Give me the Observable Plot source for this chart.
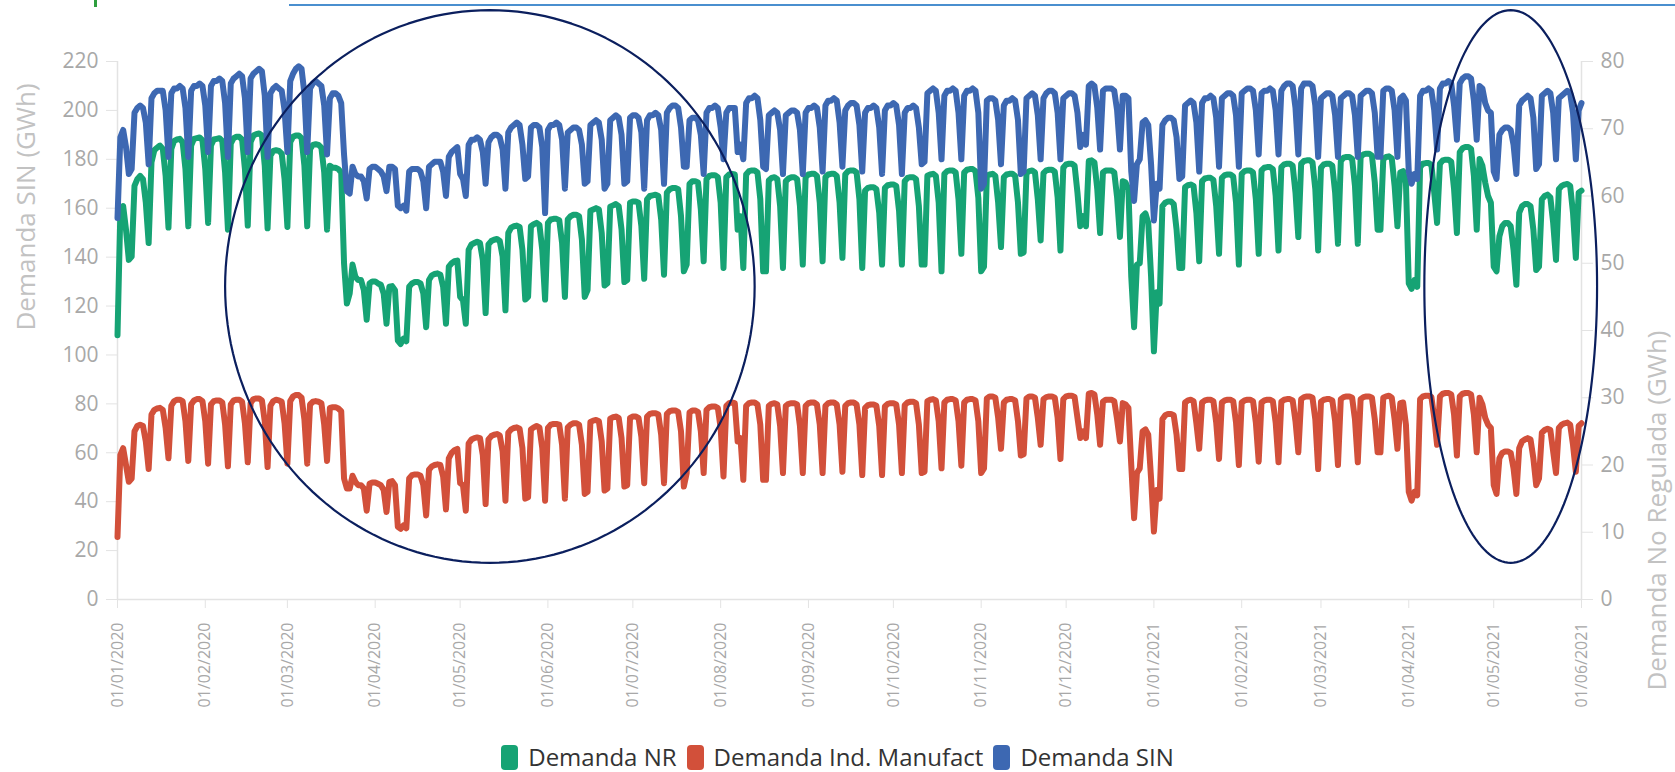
<!DOCTYPE html>
<html>
<head>
<meta charset="utf-8">
<script src="https://cdn.jsdelivr.net/npm/d3@7"></script>
<script src="https://cdn.jsdelivr.net/npm/@observablehq/plot@0.6"></script>
<style>
  html, body { margin: 0; padding: 0; background: #fff; }
  #wrap { position: relative; width: 1675px; height: 772px; overflow: hidden; font-family: "Open Sans", sans-serif; }
  #topline { position: absolute; left: 289px; right: 0; top: 4px; height: 2px; background: #4a8fcf; }
  #topmark { position: absolute; left: 94px; top: 0; width: 3px; height: 7px; background: #2e9e3e; }
  #chart { position: absolute; left: 0; top: 0; }
  #legend { position: absolute; left: 0; top: 744px; width: 1675px; height: 26px; display: flex; justify-content: center; align-items: center; }
  .item { display: flex; align-items: center; margin: 0 5px; }
  .sw { width: 17px; height: 25px; border-radius: 4px; margin-right: 10px; }
  .lab { font-size: 24px; color: #333; line-height: 26px; }
</style>
</head>
<body>
<div id="wrap">
  <div id="topmark"></div>
  <div id="topline"></div>
  <div id="chart"></div>
  <div id="legend"></div>
</div>
<script>
// ---------- DATA (daily, from 01/01/2020) ----------
const startDate = "2020-01-01";
const seriesNames = ["Demanda NR", "Demanda Ind. Manufact", "Demanda SIN"];
const seriesColors = ["#16A374", "#D2503A", "#3D68B2"];

// Demanda SIN (GWh) - left axis
const sinGWh = [
156,189,192,185,174,
176,199,201,202,201,195,178,
205,207,208,208,208,200,181,
207,209,209,210,209,201,181,
208,210,210,211,210,202,183,
210,212,212,213,212,203,181,
211,213,214,215,214,205,183,
213,215,216,217,216,206,181,
207,209,210,209,208,200,183,
212,215,217,218,217,207,183,
209,211,212,211,210,202,182,
205,207,207,206,203,182,167,
166,177,174,173,173,171,164,
176,177,177,176,175,173,167,
177,177,176,161,160,161,159,
175,176,176,176,175,171,160,
177,178,179,179,179,175,165,
181,183,184,185,174,172,165,
186,188,188,189,188,183,170,
187,189,190,190,189,184,168,
191,193,194,195,194,186,172,
173,193,194,194,193,185,158,
192,194,194,195,194,188,168,
191,192,193,193,192,186,170,
171,194,195,196,195,188,168,
170,196,197,198,197,190,170,
171,197,198,198,197,191,168,
196,198,198,199,198,192,170,
199,201,202,202,201,193,177,
177,196,197,197,196,190,174,
199,201,201,202,201,193,180,
199,201,201,201,183,186,180,
203,205,205,206,205,196,177,
176,198,199,200,199,192,174,
198,199,200,200,199,192,174,
199,201,201,202,201,193,175,
202,204,204,205,204,195,177,
200,202,203,203,202,194,175,
199,201,201,202,201,193,174,
200,202,202,203,202,194,174,
199,201,201,202,201,193,178,
179,207,208,209,208,199,180,
206,208,208,209,208,199,180,
206,208,208,209,208,199,168,
170,204,205,205,204,196,178,
202,204,204,205,204,196,174,
175,205,206,207,206,198,180,
205,207,208,208,207,199,180,
205,206,207,207,206,199,185,
190,186,210,211,210,201,184,
208,209,209,209,208,200,184,
206,206,205,175,163,178,180,
195,196,194,178,155,170,168,
194,196,197,197,196,189,172,
173,202,203,204,203,195,175,
203,205,205,206,205,197,177,
205,206,207,207,206,198,177,
207,208,209,209,208,200,182,
207,208,208,209,208,200,182,
208,210,211,211,210,201,182,
209,211,211,211,210,202,181,
205,206,207,207,206,198,181,
205,206,207,207,206,198,181,
206,207,208,208,207,199,181,
181,208,209,209,208,200,181,
205,206,204,175,170,174,172,
206,208,208,209,208,200,184,
209,211,211,212,211,202,188,
211,213,214,214,213,204,188,
210,209,203,200,199,175,172,
190,192,193,193,192,186,174,
202,204,205,206,205,197,176,
178,206,207,208,207,199,180,
205,206,207,208,207,199,180,
200,203
];

// Demanda NR (GWh) - right axis
const nrGWh = [
39.3,57.5,58.5,55,50.5,
51,61.5,62.5,63,62.5,59,53,
65,66.8,67.2,67.5,67,63,55.3,
67,68.2,68.4,68.5,68,64,55.5,
67.5,68.5,68.6,68.7,68.3,64,56,
67.5,68.4,68.5,68.6,68.2,63.5,55,
67.8,68.6,68.8,68.8,68.4,64,55.6,
68,69,69.2,69.3,69,64.5,55.2,
66,66.7,66.8,66.7,66.3,62.5,55.4,
68,68.8,69,69,68.6,64.5,55.5,
67,67.6,67.7,67.6,67.2,63.5,55,
64.5,64.2,64.2,64,63.5,50,44,
45.5,49.8,48,47.5,47.5,46,41.6,
47,47.3,47.3,47,46.8,45.5,41,
46.5,46.6,46,38.5,38,38.8,38.4,
46.5,47,47.2,47.2,47,45.5,40.5,
47.5,48.2,48.4,48.5,48.3,46.5,41,
49.5,50,50.3,50.4,45,44.5,41,
52,52.8,53,53.2,53,50.5,42.6,
52.8,53.3,53.5,53.6,53.3,51,43,
54.5,55.3,55.5,55.6,55.4,52,44.6,
45,55.5,55.8,56,55.7,52,44.6,
56,56.5,56.6,56.6,56.4,53,45,
56.5,57,57.2,57.2,57,53.5,45,
46,57.8,58,58.2,58,54.5,46.7,
47,58.4,58.6,58.8,58.5,55,47.2,
47.5,59,59.2,59.2,59,55.5,47.7,
59.5,60,60.1,60.2,60,56.5,48.3,
60.5,61,61.2,61.2,61,57,48.8,
49.8,61.8,62.2,62.2,62,58,50.3,
62.5,63,63.1,63.1,62.8,59,49.3,
62.8,63.2,63.3,63.2,55,57,49.3,
63.2,63.7,63.8,63.8,63.5,59.5,48.8,
48.8,62.3,62.7,62.8,62.5,58.5,49.3,
62.2,62.6,62.8,62.8,62.5,58.5,49.8,
62.8,63.2,63.3,63.3,63,59,50.3,
62.8,63.2,63.3,63.3,63,59,50.8,
63.2,63.7,63.8,63.8,63.5,59.5,49.3,
60.8,61.2,61.3,61.3,61,57.5,49.8,
61.2,61.6,61.7,61.7,61.5,57.8,49.8,
62.2,62.7,62.8,62.8,62.5,58.5,49.8,
49.8,63,63.2,63.3,63,59,48.8,
63.3,63.7,63.8,63.8,63.5,59.5,51.4,
63.5,63.9,64,64,63.7,59.7,48.8,
49.5,63,63.2,63.3,63,59,52.4,
62.8,63.2,63.3,63.3,63,59,51.4,
51.6,63.4,63.7,63.8,63.5,59.5,53.4,
63.4,63.8,63.9,63.9,63.6,59.8,51.9,
64.2,64.7,64.8,64.8,64.5,60.5,55.5,
57,55.5,65.2,65.3,65,61,54.5,
63.5,63.8,63.8,63.8,63.5,59.8,53.9,
62.2,62,61,48,40.5,49.8,50,
57,57.4,56,48,36.9,45.7,44,
58.5,59,59.2,59.2,58.8,55,49.3,
49.3,61.3,61.6,61.7,61.5,57.5,50.3,
62.2,62.6,62.7,62.7,62.4,58.5,51.4,
62.7,63.1,63.2,63.2,62.9,59,49.8,
63.3,63.7,63.8,63.8,63.5,59.5,51.4,
63.8,64.2,64.3,64.3,64,60,51.9,
64.3,64.7,64.8,64.8,64.5,60.5,53.9,
64.8,65.2,65.3,65.3,65,61,51.9,
64.2,64.7,64.8,64.8,64.5,60.5,52.9,
65.2,65.7,65.8,65.8,65.5,61.5,52.9,
65.8,66.2,66.3,66.3,66,62,55,
55,65.5,65.8,65.9,65.6,61.5,55.5,
63.5,63.7,62,47,46.2,47.5,46.5,
64.3,64.8,64.9,64.9,64.6,60.5,56,
64.8,65.3,65.4,65.4,65.1,61,54.5,
66.5,67.1,67.3,67.3,67,63,55,
65.5,64.5,62,60,59,49.5,48.8,
54,55.5,56,56,55.5,52,46.8,
57.5,58.5,58.8,58.8,58.5,55,49,
49.5,59.5,60,60.2,59.8,56,50.5,
61,61.5,61.7,61.8,61.5,57.5,50.8,
60.5,60.8
];

// Demanda Industria Manufacturera (GWh) - right axis
const manufGWh = [
9.3,21.5,22.5,20,17.5,
18,25,25.8,26,25.8,23.5,19.4,
27.5,28.2,28.4,28.5,28.2,25.5,21,
28.8,29.5,29.7,29.7,29.5,26.5,20.6,
29,29.6,29.8,29.8,29.5,26.5,20.2,
29,29.5,29.6,29.6,29.3,26,19.8,
29,29.6,29.7,29.7,29.4,26.2,20.4,
29.2,29.8,29.9,29.9,29.6,26.5,19.7,
28.8,29.5,29.7,29.6,29.4,26.2,20.2,
29.5,30.2,30.4,30.4,30,26.8,20.2,
29,29.4,29.5,29.4,29.2,26,20.6,
28.5,28.6,28.6,28.4,28,18,16.5,
16.5,18.4,17.5,17,17,16.5,13.2,
17.2,17.4,17.4,17.2,17,16.3,13,
17.5,17.6,17,10.8,10.5,11,10.6,
18,18.5,18.6,18.6,18.4,17,12.5,
19.3,19.8,20,20.1,20,18.3,13.4,
21,21.8,22.2,22.4,17.3,17,13.2,
23.2,23.8,24,24.1,24,21.5,14.2,
23.8,24.3,24.5,24.6,24.4,22,14.7,
24.8,25.3,25.5,25.6,25.4,22.5,15,
15.2,25.3,25.6,25.8,25.6,22.5,14.7,
25.5,26,26.1,26.1,26,23,15,
25.6,26,26.2,26.2,26,23,15.7,
16,26.4,26.6,26.7,26.5,23.5,16.2,
16.5,26.9,27.1,27.2,27,24,16.8,
17,27,27.2,27.2,27,24.2,17.3,
27.2,27.6,27.7,27.7,27.5,24.5,17.3,
27.6,28,28.1,28.1,27.9,25,16.8,
18.8,27.8,28.1,28.1,27.9,25,18.8,
28.2,28.6,28.7,28.7,28.5,25.5,18.3,
28.8,29.2,29.3,29.2,23.5,24,17.8,
28.8,29.2,29.3,29.3,29,26,17.8,
17.8,28.8,29.1,29.2,29,25.8,18.8,
28.8,29.1,29.2,29.2,29,25.8,18.8,
28.8,29.2,29.3,29.3,29,26,18.8,
28.8,29.2,29.3,29.3,29,26,19,
28.8,29.2,29.3,29.3,29,26,18.5,
28.5,28.9,29,29,28.8,25.8,18.5,
28.7,29.1,29.2,29.2,29,26,18.8,
28.9,29.3,29.4,29.4,29.2,26,18.8,
19,29.5,29.7,29.8,29.6,26.5,19.5,
29.3,29.7,29.8,29.8,29.6,26.5,19.9,
29.3,29.7,29.8,29.8,29.6,26.5,18.8,
19.5,29.9,30.2,30.2,30,27,22.4,
29.3,29.7,29.8,29.8,29.6,26.5,21.4,
21.6,29.9,30.2,30.2,30,27,23,
29.8,30.1,30.2,30.2,30,27,20.9,
29.8,30.2,30.3,30.3,30.1,27,24,
25,24,30.6,30.7,30.5,27.5,23,
29.4,29.7,29.7,29.7,29.5,26.8,23.5,
29.2,29,28.5,20,12.1,18.8,19.5,
25,25.3,24.5,18,10.1,16.3,15,
26.8,27.4,27.6,27.6,27.4,24.5,19.4,
19.4,29.3,29.6,29.7,29.5,26.2,22.4,
29.3,29.6,29.7,29.7,29.5,26.3,20.9,
29.3,29.6,29.7,29.7,29.5,26.3,20,
29.3,29.6,29.7,29.7,29.5,26.3,20.5,
29.3,29.6,29.7,29.7,29.5,26.3,20.4,
29.4,29.7,29.8,29.8,29.6,26.5,21.9,
29.8,30.1,30.2,30.2,30,26.8,19.4,
29.4,29.7,29.8,29.8,29.6,26.5,20,
29.8,30.1,30.2,30.2,30,26.8,20.4,
29.8,30.1,30.2,30.2,30,26.8,21.9,
21.9,30,30.2,30.3,30,26.8,22.4,
29.2,29.3,26,16,14.7,16,15.5,
29.8,30.2,30.3,30.3,30.1,27,23,
30.2,30.6,30.7,30.7,30.5,27.5,21.4,
30.2,30.6,30.7,30.7,30.5,27.5,21.9,
30,29,27,26,25.5,17,15.7,
21,21.8,22,22,21.8,19.5,15.7,
22.5,23.5,23.8,24,23.8,21,17,
18,24.8,25.2,25.4,25.2,22,18.8,
25.5,26,26.2,26.3,26,23,19,
25.8,26.2
];

// Axis ticks
const leftTicks = [0, 20, 40, 60, 80, 100, 120, 140, 160, 180, 200, 220];
const rightTicks = [0, 10, 20, 30, 40, 50, 60, 70, 80];
const leftTitle = "Demanda SIN (GWh)";
const rightTitle = "Demanda No Regulada (GWh)";

// Highlight ellipses (annotations): centre date, centre value (left axis), half-width (days), half-height (GWh)
const highlightCentreDates = ["2020-05-11T12:00Z", "2021-05-07T00:00Z"];
const highlightCentreGWh = [128, 128];
const highlightHalfDays = [93.5, 30.5];
const highlightHalfGWh = [113, 113];

// ---------- BUILD ----------
const start = new Date(startDate + "T00:00Z");
const dates = sinGWh.map((_, i) => d3.utcDay.offset(start, i));
const rightToLeft = leftTicks[leftTicks.length - 1] / rightTicks[rightTicks.length - 1];

const rows = [];
[[nrGWh, rightToLeft], [manufGWh, rightToLeft], [sinGWh, 1]].forEach(([arr, k], s) => {
  arr.forEach((v, i) => rows.push({serie: seriesNames[s], date: dates[i], y: v * k}));
});

const ellipsePts = [];
highlightCentreDates.forEach((c, j) => {
  const cd = new Date(c);
  for (let a = 0; a <= 360; a += 2) {
    const t = a * Math.PI / 180;
    ellipsePts.push({
      id: j,
      date: new Date(+cd + highlightHalfDays[j] * Math.cos(t) * 864e5),
      y: highlightCentreGWh[j] + highlightHalfGWh[j] * Math.sin(t)
    });
  }
});

const xDomain = [dates[0], dates[dates.length - 1]];
const monthTicks = d3.utcMonth.range(dates[0], d3.utcDay.offset(dates[dates.length - 1], 1));

const axisGrey = "#e3e3e3";
const textGrey = "#a8a8a8";
const titleGrey = "#c2c2c2";

const chart = Plot.plot({
  width: 1675,
  height: 722,
  marginLeft: 117,
  marginRight: 94,
  marginTop: 61,
  marginBottom: 123,
  style: {fontFamily: "'Open Sans', sans-serif", background: "transparent", overflow: "visible"},
  x: {type: "utc", domain: xDomain},
  y: {domain: [leftTicks[0], leftTicks[leftTicks.length - 1]]},
  color: {domain: seriesNames, range: seriesColors},
  marks: [
    Plot.ruleY([leftTicks[0]], {stroke: axisGrey, strokeWidth: 1.5}),
    Plot.ruleX(xDomain, {stroke: axisGrey, strokeWidth: 1.5}),
    Plot.axisY(leftTicks, {anchor: "left", label: null, tickSize: 11, tickPadding: 8, stroke: axisGrey, fill: textGrey, fontSize: 21}),
    Plot.axisY(rightTicks.map(v => v * rightToLeft), {anchor: "right", label: null, tickSize: 11, tickPadding: 8, stroke: axisGrey, fill: textGrey, fontSize: 21, tickFormat: v => String(Math.round(v / rightToLeft))}),
    Plot.axisX(monthTicks, {anchor: "bottom", label: null, tickSize: 9, tickPadding: 14, tickRotate: -90, stroke: axisGrey, fill: textGrey, fontSize: 16, tickFormat: d3.utcFormat("%d/%m/%Y")}),
    Plot.text([leftTitle], {text: d => d, frameAnchor: "left", dx: -91, rotate: -90, fontSize: 26, fill: titleGrey}),
    Plot.text([rightTitle], {text: d => d, frameAnchor: "right", dx: 76, rotate: -90, fontSize: 26, fill: titleGrey}),
    Plot.lineY(rows, {x: "date", y: "y", z: "serie", stroke: "serie", strokeWidth: 6, strokeLinejoin: "round", strokeLinecap: "round"}),
    Plot.line(ellipsePts, {x: "date", y: "y", z: "id", stroke: "#0b1f5e", strokeWidth: 2.2, curve: "linear"})
  ]
});
document.getElementById("chart").appendChild(chart);

// Legend
const legend = document.getElementById("legend");
seriesNames.forEach((n, i) => {
  const it = document.createElement("div");
  it.className = "item";
  it.innerHTML = `<div class="sw" style="background:${seriesColors[i]}"></div><span class="lab">${n}</span>`;
  legend.appendChild(it);
});
</script>
</body>
</html>
